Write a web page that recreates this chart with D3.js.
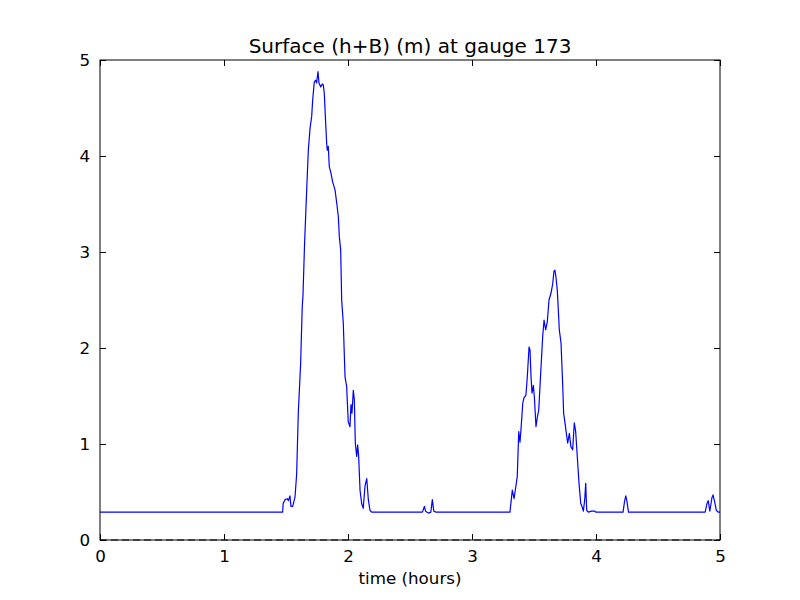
<!DOCTYPE html>
<html>
<head>
<meta charset="utf-8">
<script src="https://cdn.jsdelivr.net/npm/d3@7"></script>
<style>
  body { margin: 0; background: #fff; }
  svg text { font-family: "DejaVu Sans", sans-serif; fill: #000; }
</style>
</head>
<body>
<svg id="chart" width="800" height="600"></svg>
<script>
// gauge 173 surface
const timeHours = [
  0, 1.473, 1.477, 1.492, 1.511, 1.519, 1.532, 1.540, 1.554, 1.573, 1.586, 1.599, 1.618, 1.631, 1.637,
  1.650, 1.667, 1.680, 1.694, 1.707, 1.715, 1.728, 1.739, 1.747, 1.758, 1.766, 1.780, 1.793, 1.801,
  1.809, 1.820, 1.828, 1.833, 1.841, 1.849, 1.863, 1.876, 1.895, 1.909, 1.922, 1.930, 1.941, 1.949,
  1.962, 1.976, 1.989, 2.002, 2.016, 2.024, 2.032, 2.043, 2.051, 2.059, 2.070, 2.078, 2.086, 2.097,
  2.110, 2.123, 2.137, 2.151, 2.164, 2.177, 2.191,
  2.600, 2.616, 2.626, 2.648, 2.668, 2.680, 2.692, 2.710,
  3.306, 3.325, 3.339, 3.355, 3.365, 3.377, 3.387, 3.395, 3.409, 3.419, 3.435, 3.446, 3.460, 3.468,
  3.476, 3.484, 3.495, 3.503, 3.516, 3.527, 3.538, 3.554, 3.570, 3.581, 3.594, 3.607, 3.621, 3.637,
  3.651, 3.661, 3.669, 3.677, 3.688, 3.696, 3.704, 3.718, 3.731, 3.739, 3.750, 3.764, 3.772, 3.785,
  3.798, 3.812, 3.825, 3.836, 3.849, 3.863, 3.877, 3.887, 3.898, 3.909, 3.917, 3.925, 3.938, 3.965,
  3.990, 4.000,
  4.218, 4.230, 4.240, 4.250, 4.262,
  4.880, 4.895, 4.905, 4.918, 4.935, 4.944, 4.960, 4.970, 4.985, 5.0
];
const surface = [
  0.29, 0.29, 0.38, 0.42, 0.43, 0.41, 0.46, 0.35, 0.35, 0.45, 0.69, 1.32, 1.84, 2.43, 2.55,
  3.10, 3.65, 4.06, 4.29, 4.41, 4.58, 4.77, 4.79, 4.76, 4.88, 4.76, 4.72, 4.75, 4.74,
  4.65, 4.34, 4.13, 4.06, 4.10, 3.89, 3.82, 3.73, 3.65, 3.51, 3.37, 3.16, 3.02, 2.50,
  2.26, 1.70, 1.60, 1.23, 1.18, 1.41, 1.32, 1.56, 1.46, 1.01, 0.87, 0.99, 0.87, 0.52,
  0.38, 0.33, 0.56, 0.64, 0.42, 0.31, 0.29,
  0.29, 0.35, 0.30, 0.28, 0.29, 0.42, 0.30, 0.29,
  0.29, 0.52, 0.43, 0.57, 0.66, 1.13, 1.02, 1.15, 1.42, 1.48, 1.51, 1.70, 2.01, 1.98,
  1.70, 1.53, 1.61, 1.49, 1.18, 1.28, 1.35, 1.74, 2.12, 2.29, 2.19, 2.27, 2.50, 2.57,
  2.67, 2.80, 2.81, 2.74, 2.60, 2.40, 2.19, 2.05, 1.63, 1.32, 1.22, 1.08, 1.01, 1.11,
  0.97, 0.94, 1.22, 1.13, 0.87, 0.59, 0.38, 0.35, 0.30, 0.42, 0.59, 0.31, 0.29, 0.30,
  0.30, 0.29,
  0.29, 0.40, 0.46, 0.40, 0.29,
  0.29, 0.38, 0.41, 0.30, 0.44, 0.47, 0.38, 0.31, 0.29, 0.29
];
const xTicks = [0, 1, 2, 3, 4, 5];
const yTicks = [0, 1, 2, 3, 4, 5];

const svg = d3.select("#chart");
const margin = {top: 60, right: 80, bottom: 60, left: 100};
const width = 800 - margin.left - margin.right;
const height = 600 - margin.top - margin.bottom;

const x = d3.scaleLinear().domain([0, 5]).range([0, width]);
const y = d3.scaleLinear().domain([0, 5]).range([height, 0]);

const g = svg.append("g")
    .attr("transform", "translate(" + margin.left + "," + margin.top + ")");

// zero reference line
g.append("line")
    .attr("x1", x(0)).attr("x2", x(5))
    .attr("y1", y(0)).attr("y2", y(0))
    .attr("stroke", "#000")
    .attr("stroke-width", 1)
    .attr("stroke-dasharray", "7,4");

const data = timeHours.map((t, i) => ({t: t, v: surface[i]}));
const line = d3.line()
    .x((d) => x(d.t))
    .y((d) => y(d.v));

g.append("path")
    .datum(data)
    .attr("fill", "none")
    .attr("stroke", "#0000ff")
    .attr("stroke-width", 1.2)
    .attr("stroke-linejoin", "round")
    .attr("d", line);

// ticks inward on all sides, classic style
const tickLen = 6;
const axisStyle = (sel) => {
    sel.select(".domain").remove();
    sel.selectAll(".tick line").attr("stroke", "#000");
    sel.selectAll(".tick text").attr("font-size", "16.7px");
};

g.append("g")
    .attr("transform", "translate(0," + height + ")")
    .call(d3.axisBottom(x).tickValues(xTicks).tickFormat(d3.format("d"))
        .tickSizeInner(-tickLen).tickSizeOuter(0).tickPadding(10))
    .call(axisStyle);

g.append("g")
    .call(d3.axisTop(x).tickValues(xTicks).tickFormat("")
        .tickSizeInner(-tickLen).tickSizeOuter(0))
    .call(axisStyle);

g.append("g")
    .call(d3.axisLeft(y).tickValues(yTicks).tickFormat(d3.format("d"))
        .tickSizeInner(-tickLen).tickSizeOuter(0).tickPadding(10))
    .call(axisStyle);

g.append("g")
    .attr("transform", "translate(" + width + ",0)")
    .call(d3.axisRight(y).tickValues(yTicks).tickFormat("")
        .tickSizeInner(-tickLen).tickSizeOuter(0))
    .call(axisStyle);

g.append("rect")
    .attr("width", width)
    .attr("height", height)
    .attr("fill", "none")
    .attr("stroke", "#000")
    .attr("stroke-width", 1);

svg.append("text")
    .attr("x", margin.left + width / 2)
    .attr("y", 53)
    .attr("text-anchor", "middle")
    .attr("font-size", "20px")
    .text("Surface (h+B) (m) at gauge 173");

svg.append("text")
    .attr("x", margin.left + width / 2)
    .attr("y", 584)
    .attr("text-anchor", "middle")
    .attr("font-size", "16.7px")
    .text("time (hours)");
</script>
</body>
</html>
